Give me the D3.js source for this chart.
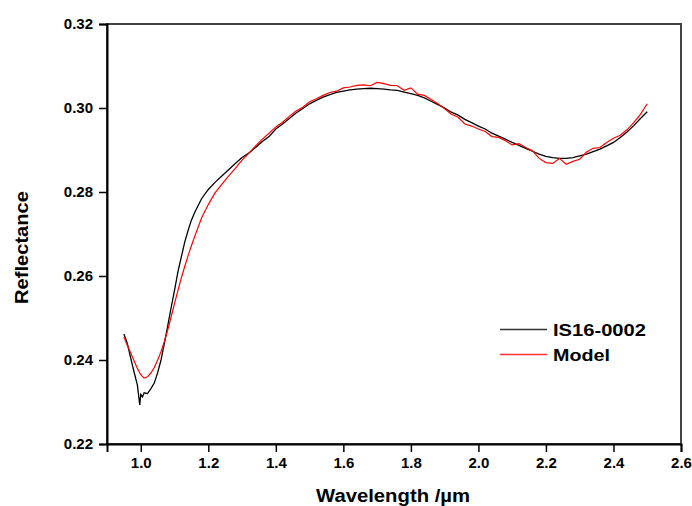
<!DOCTYPE html>
<html>
<head>
<meta charset="utf-8">
<script src="https://cdn.jsdelivr.net/npm/d3@7"></script>
<style>
  body { margin: 0; background: #fff; }
  svg { display: block; font-family: "Liberation Sans", Arial, sans-serif; }
</style>
</head>
<body>
<svg id="chart" width="692" height="506"></svg>
<script>
// measured spectrum, IS16-0002
const sampleWl = [0.95, 0.96, 0.97, 0.98, 0.99, 0.997, 1.00, 1.005, 1.01, 1.02, 1.03, 1.04, 1.05, 1.06, 1.07, 1.08, 1.09,
  1.10, 1.11, 1.12, 1.13, 1.14, 1.15, 1.16, 1.18, 1.20, 1.22, 1.24, 1.26, 1.28, 1.30, 1.32, 1.34, 1.36, 1.38,
  1.40, 1.42, 1.44, 1.46, 1.48, 1.50, 1.52, 1.54, 1.56, 1.58, 1.60, 1.62, 1.64, 1.66, 1.68, 1.70, 1.72, 1.74,
  1.76, 1.78, 1.80, 1.82, 1.84, 1.86, 1.88, 1.90, 1.92, 1.94, 1.96, 1.98, 2.00, 2.02, 2.04, 2.06, 2.08, 2.10,
  2.12, 2.14, 2.16, 2.18, 2.20, 2.22, 2.24, 2.26, 2.28, 2.30, 2.32, 2.34, 2.36, 2.38, 2.40, 2.42, 2.44, 2.46,
  2.48, 2.50]
const sampleR = [0.2462, 0.2440, 0.2405, 0.2372, 0.2340, 0.2293, 0.2318, 0.2312, 0.2322, 0.2320, 0.2332, 0.2345, 0.2370, 0.2400, 0.2440, 0.2482, 0.2525,
  0.2566, 0.2610, 0.2645, 0.2680, 0.2708, 0.2733, 0.2752, 0.2784, 0.2806, 0.2823, 0.2838, 0.2853, 0.2868, 0.2882, 0.2893, 0.2906, 0.2920, 0.2932,
  0.2950, 0.2962, 0.2975, 0.2988, 0.2999, 0.3010, 0.3018, 0.3026, 0.3032, 0.3037, 0.3040, 0.3043, 0.3045, 0.3046, 0.3047, 0.3046, 0.3045, 0.3043,
  0.3042, 0.3038, 0.3034, 0.3030, 0.3024, 0.3016, 0.3008, 0.3000, 0.2990, 0.2983, 0.2973, 0.2965, 0.2957, 0.2950, 0.2940, 0.2933, 0.2926, 0.2918,
  0.2911, 0.2904, 0.2897, 0.2890, 0.2885, 0.2882, 0.2880, 0.2880, 0.2882, 0.2886, 0.2890, 0.2896, 0.2902, 0.2910, 0.2918, 0.2930, 0.2943, 0.2958,
  0.2975, 0.2991]

// fitted model
const modelWl = [0.95, 0.96, 0.97, 0.98, 0.99, 1.00, 1.01, 1.02, 1.03, 1.04, 1.05, 1.06, 1.07, 1.08, 1.09,
  1.10, 1.11, 1.12, 1.13, 1.14, 1.15, 1.16, 1.18, 1.20, 1.22, 1.24, 1.26, 1.28, 1.30, 1.32, 1.34, 1.36, 1.38,
  1.40, 1.42, 1.44, 1.46, 1.48, 1.50, 1.52, 1.54, 1.56, 1.58, 1.60, 1.62, 1.64, 1.66, 1.68, 1.70, 1.72, 1.74,
  1.76, 1.78, 1.80, 1.82, 1.84, 1.86, 1.88, 1.90, 1.92, 1.94, 1.96, 1.98, 2.00, 2.02, 2.04, 2.06, 2.08, 2.10,
  2.12, 2.14, 2.16, 2.18, 2.20, 2.22, 2.24, 2.26, 2.28, 2.30, 2.32, 2.34, 2.36, 2.38, 2.40, 2.42, 2.44, 2.46,
  2.48, 2.50]
const modelR = [0.2455, 0.2435, 0.2417, 0.2398, 0.2380, 0.2365, 0.2357, 0.2360, 0.2369, 0.2382, 0.2400, 0.2420, 0.2444, 0.2472, 0.2503,
  0.2535, 0.2565, 0.2595, 0.2622, 0.2648, 0.2672, 0.2695, 0.2738, 0.2770, 0.2798, 0.2818, 0.2838, 0.2856, 0.2876, 0.2892, 0.2910, 0.2926, 0.2940,
  0.2955, 0.2966, 0.2980, 0.2993, 0.3002, 0.3015, 0.3022, 0.3030, 0.3037, 0.3040, 0.3048, 0.3050, 0.3054, 0.3055, 0.3053, 0.3061, 0.3058, 0.3054,
  0.3053, 0.3042, 0.3048, 0.3033, 0.3030, 0.3020, 0.3010, 0.2998, 0.2985, 0.2978, 0.2962, 0.2957, 0.2950, 0.2944, 0.2932, 0.2930, 0.2922, 0.2912,
  0.2915, 0.2906, 0.2898, 0.2880, 0.2870, 0.2868, 0.2880, 0.2866, 0.2873, 0.2878, 0.2895, 0.2904, 0.2906, 0.2918, 0.2928, 0.2935, 0.2948, 0.2965,
  0.2985, 0.3010]

const xTicks = [1.0, 1.2, 1.4, 1.6, 1.8, 2.0, 2.2, 2.4, 2.6]
const yTicks = [0.22, 0.24, 0.26, 0.28, 0.30, 0.32]
const seriesNames = ['IS16-0002', 'Model']

const width = 692, height = 506
const margin = { top: 24, right: 11, bottom: 62, left: 107 }
const plotW = width - margin.left - margin.right
const plotH = height - margin.top - margin.bottom

const svg = d3.select('#chart')

const x = d3.scaleLinear().domain([0.9, 2.6]).range([0, plotW])
const y = d3.scaleLinear().domain([0.22, 0.32]).range([plotH, 0])

const bounds = svg.append('g')
    .attr('transform', `translate(${margin.left},${margin.top})`)

// frame (top / right)
bounds.append('rect')
    .attr('width', plotW)
    .attr('height', plotH)
    .attr('fill', 'none')
    .attr('stroke', '#444')
    .attr('stroke-width', 2)

const line = d3.line()
    .x(d => x(d[0]))
    .y(d => y(d[1]))

const sample = sampleWl.map((w, i) => [w, sampleR[i]])
const model = modelWl.map((w, i) => [w, modelR[i]])

bounds.append('path')
    .datum(sample)
    .attr('d', line)
    .attr('fill', 'none')
    .attr('stroke', '#000')
    .attr('stroke-width', 1.3)

bounds.append('path')
    .datum(model)
    .attr('d', line)
    .attr('fill', 'none')
    .attr('stroke', '#ff0000')
    .attr('stroke-width', 1.2)

// axes
const xAxis = bounds.append('g')
    .attr('transform', `translate(0,${plotH})`)
    .call(d3.axisBottom(x).tickValues(xTicks).tickFormat(d3.format('.1f')).tickSize(8).tickPadding(5))
const yAxis = bounds.append('g')
    .call(d3.axisLeft(y).tickValues(yTicks).tickFormat(d3.format('.2f')).tickSize(8).tickPadding(6))

;[xAxis, yAxis].forEach(a => {
  a.select('.domain').attr('stroke', '#000').attr('stroke-width', 2)
  a.selectAll('.tick line').attr('stroke', '#000').attr('stroke-width', 1.5)
  a.selectAll('.tick text')
      .attr('fill', '#000')
      .style('font-size', '15px')
      .style('font-weight', 'bold')
      .style('font-family', '"Liberation Sans", Arial, sans-serif')
})

// axis titles
svg.append('text')
    .text('Wavelength /µm')
    .attr('x', 316)
    .attr('y', 502)
    .attr('textLength', 154)
    .attr('lengthAdjust', 'spacingAndGlyphs')
    .style('font-size', '18px')
    .style('font-weight', 'bold')

svg.append('text')
    .text('Reflectance')
    .attr('transform', 'translate(28,304) rotate(-90)')
    .attr('textLength', 113)
    .attr('lengthAdjust', 'spacingAndGlyphs')
    .style('font-size', '18px')
    .style('font-weight', 'bold')

// legend
const legend = svg.append('g').attr('transform', 'translate(500,329.5)')
const colors = ['#333', '#ff3333']
const labelLen = [93, 57]
seriesNames.forEach((name, i) => {
  const g = legend.append('g').attr('transform', `translate(0,${i * 25})`)
  g.append('line')
      .attr('x1', 0).attr('x2', 47)
      .attr('stroke', colors[i])
      .attr('stroke-width', 1.3)
  g.append('text')
      .text(name)
      .attr('x', 53)
      .attr('y', 6)
      .attr('textLength', labelLen[i])
      .attr('lengthAdjust', 'spacingAndGlyphs')
      .style('font-size', '17px')
      .style('font-weight', 'bold')
})
</script>
</body>
</html>
